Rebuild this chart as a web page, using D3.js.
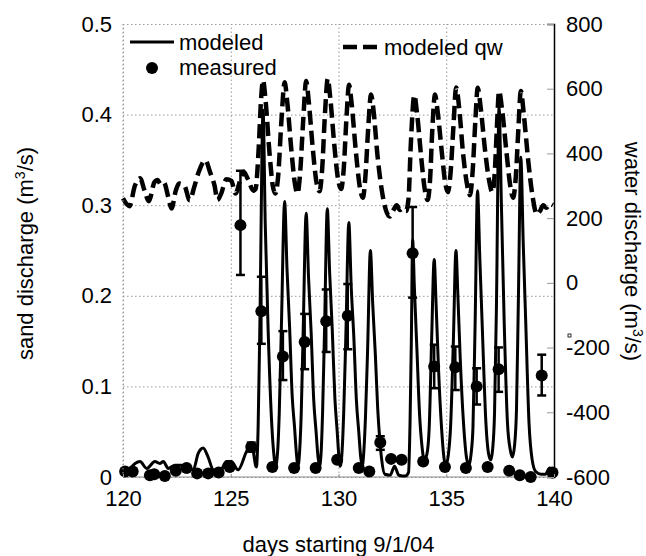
<!DOCTYPE html>
<html>
<head>
<meta charset="utf-8">
<script src="https://cdn.jsdelivr.net/npm/d3@7"></script>
<style>
    body { margin: 0; background: #fff; }
    svg { display: block; font-family: "Liberation Sans", Arial, Helvetica, sans-serif; }
    .grid line { stroke: #999; stroke-dasharray: 1.5, 2.5; }
    .grid path { display: none; }
</style>
</head>
<body>
<div id="chart"></div>
<script>
// modeled sand discharge (m3/s)
var sandDays = [120.0, 120.3, 120.56, 120.79, 121.1, 121.48, 121.71, 121.87, 122.1, 122.41, 122.72, 122.95,
    123.26, 123.49, 123.72, 123.95, 124.18, 124.49, 124.8, 125.03, 125.34, 125.73, 125.96, 126.19,
    126.27, 126.35, 126.5, 126.6, 126.73, 126.91, 127.0, 127.08,
    127.18, 127.25, 127.35, 127.5, 127.61, 127.73, 127.85, 127.96, 128.05, 128.12,
    128.2, 128.27, 128.36, 128.5, 128.61, 128.73, 128.85, 128.96, 129.05, 129.12,
    129.2, 129.26, 129.35, 129.48, 129.59, 129.71, 129.83, 129.94, 130.02, 130.08,
    130.17, 130.24, 130.34, 130.48, 130.59, 130.71, 130.83, 130.94, 131.03, 131.1,
    131.18, 131.25, 131.35, 131.48, 131.59, 131.71, 131.82, 131.92, 132.0, 132.15, 132.4, 132.6, 132.8, 133.1, 133.25,
    133.32, 133.38, 133.44, 133.52, 133.64, 133.76, 133.87, 133.98,
    134.1, 134.21, 134.32, 134.44, 134.53, 134.64, 134.78, 134.9, 134.98,
    135.1, 135.2, 135.33, 135.45, 135.54, 135.65, 135.8, 135.95, 136.06,
    136.15, 136.24, 136.34, 136.45, 136.56, 136.68, 136.84, 136.97, 137.07,
    137.15, 137.24, 137.33, 137.45, 137.56, 137.69, 137.84, 137.97, 138.07,
    138.17, 138.26, 138.35, 138.46, 138.57, 138.69, 138.84, 138.98, 139.15, 139.4, 139.6, 139.8, 140.0];
var sandModel = [0.006, 0.009, 0.015, 0.017, 0.0095, 0.017, 0.015, 0.017, 0.0095, 0.013, 0.013, 0.0095,
    0.008, 0.026, 0.032, 0.022, 0.008, 0.006, 0.017, 0.017, 0.008, 0.028, 0.037, 0.011,
    0.055, 0.166, 0.405, 0.28, 0.166, 0.055, 0.025, 0.012,
    0.03, 0.07, 0.166, 0.304, 0.23, 0.166, 0.09, 0.055, 0.025, 0.012,
    0.03, 0.07, 0.16, 0.291, 0.22, 0.16, 0.085, 0.05, 0.022, 0.012,
    0.03, 0.07, 0.16, 0.296, 0.225, 0.163, 0.088, 0.05, 0.022, 0.012,
    0.03, 0.07, 0.155, 0.281, 0.21, 0.155, 0.085, 0.05, 0.022, 0.012,
    0.03, 0.065, 0.14, 0.25, 0.19, 0.135, 0.075, 0.04, 0.02, 0.003, 0.002, 0.012, 0.002, 0.001, 0.005,
    0.06, 0.15, 0.262, 0.21, 0.14, 0.07, 0.035, 0.019,
    0.025, 0.055, 0.15, 0.24, 0.19, 0.12, 0.055, 0.02, 0.013,
    0.025, 0.055, 0.15, 0.25, 0.2, 0.13, 0.06, 0.02, 0.013,
    0.025, 0.055, 0.17, 0.316, 0.24, 0.16, 0.06, 0.025, 0.019,
    0.03, 0.07, 0.19, 0.408, 0.3, 0.17, 0.06, 0.03, 0.022,
    0.035, 0.075, 0.2, 0.353, 0.26, 0.17, 0.06, 0.02, 0.006, 0.003, 0.003, 0.01, 0.005];

// modeled water discharge qw (m3/s), right axis
var qwDays = [120.0, 120.3, 120.55, 120.79, 121.0, 121.2, 121.45, 121.6, 121.75, 121.9, 122.1, 122.25,
    122.45, 122.6, 122.85, 123.1, 123.3, 123.5, 123.82, 124.05, 124.25, 124.38, 124.55, 124.8,
    125.03, 125.22, 125.45, 125.6, 125.8, 126.05, 126.15, 126.3, 126.4, 126.5, 126.62, 126.8, 126.95,
    127.07, 127.2, 127.35, 127.5, 127.62, 127.8, 127.97, 128.1, 128.22, 128.36, 128.5, 128.62, 128.8, 128.98,
    129.12, 129.24, 129.37, 129.5, 129.62, 129.8, 129.98, 130.12, 130.24, 130.37, 130.49, 130.6, 130.8, 130.98,
    131.13, 131.25, 131.38, 131.51, 131.63, 131.8, 132.0, 132.2, 132.38, 132.55, 132.7, 132.85, 133.0, 133.13,
    133.25, 133.35, 133.52, 133.65, 133.85, 134.0, 134.13, 134.25, 134.35, 134.48, 134.6, 134.8, 134.95,
    135.08, 135.2, 135.33, 135.46, 135.6, 135.78, 135.95, 136.1, 136.22, 136.35, 136.46, 136.6, 136.8, 136.98,
    137.14, 137.25, 137.35, 137.45, 137.6, 137.8, 137.97, 138.1, 138.23, 138.35, 138.46, 138.6, 138.8, 139.0,
    139.2, 139.35, 139.5, 139.65, 139.8, 139.95];
var qwModel = [261, 237, 300, 323, 285, 252, 310, 318, 305, 310, 265, 230,
    285, 307, 300, 255, 295, 340, 379, 340, 300, 256, 275, 320,
    315, 276, 320, 343, 320, 285, 290, 420, 560, 626, 560, 400, 300,
    276, 330, 500, 620, 560, 420, 310, 276, 340, 500, 624, 560, 420, 310,
    283, 350, 520, 631, 570, 430, 320, 290, 350, 510, 612, 560, 410, 300,
    263, 330, 480, 582, 530, 400, 290, 225, 205, 225, 240, 225, 230, 222,
    260, 420, 580, 520, 380, 290, 256, 320, 470, 582, 530, 400, 310,
    280, 340, 480, 604, 540, 400, 310, 271, 340, 500, 603, 540, 410, 320,
    280, 340, 480, 593, 530, 400, 300, 263, 330, 480, 593, 520, 380, 270,
    212, 222, 240, 232, 244, 240];

// measured sand discharge
var measDays = [120.1, 120.45, 121.25, 121.45, 121.94, 122.45, 122.95, 123.44, 123.95, 124.44, 124.95,
    125.45, 125.95, 126.42, 126.93, 127.42, 127.94, 128.43, 128.94, 129.43, 129.94, 130.43, 130.94,
    131.43, 131.94, 132.44, 132.93, 133.44, 133.93, 134.44, 134.94, 135.42, 135.91, 136.41, 136.92,
    137.43, 137.92, 138.41, 138.92, 139.43, 139.93];
var measSand = [0.006, 0.006, 0.002, 0.003, 0.001, 0.007, 0.01, 0.004, 0.004, 0.005, 0.011,
    0.278, 0.033, 0.183, 0.011, 0.133, 0.01, 0.149, 0.01, 0.172, 0.019, 0.178, 0.01,
    0.006, 0.038, 0.02, 0.019, 0.247, 0.017, 0.122, 0.011, 0.121, 0.01, 0.1, 0.011,
    0.119, 0.007, 0.002, 0, 0.112, 0.005];

// error bars on measured values
var errDays = [125.45, 125.95, 126.42, 127.42, 128.43, 129.43, 130.43, 131.94, 133.44, 134.44, 135.42, 136.41, 137.43, 139.43];
var errLow = [0.223, 0.028, 0.147, 0.107, 0.119, 0.138, 0.141, 0.03, 0.198, 0.098, 0.096, 0.08, 0.094, 0.09];
var errHigh = [0.338, 0.038, 0.221, 0.161, 0.18, 0.207, 0.213, 0.045, 0.298, 0.146, 0.144, 0.12, 0.143, 0.135];

// ticks
var dayTicks = [120, 125, 130, 135, 140];
var sandTicks = [0, 0.1, 0.2, 0.3, 0.4, 0.5];
var sandTickLabels = ["0", "0.1", "0.2", "0.3", "0.4", "0.5"];
var qwTicks = [-600, -400, -200, 0, 200, 400, 600, 800];
var qwTickLabels = ["-600", "-400", "-200", "0", "200", "400", "600", "800"];

var margin = {top: 24, right: 92, bottom: 79, left: 123},
    width = 646 - margin.left - margin.right,
    height = 556 - margin.top - margin.bottom;

var svg = d3.select("#chart")
    .append("svg")
    .attr("width", 646)
    .attr("height", 556)
    .append("g")
    .attr("transform", "translate(" + margin.left + "," + margin.top + ")");

var x = d3.scaleLinear().domain([120, 140]).range([0, width]);
var y = d3.scaleLinear().domain([0, 0.5]).range([height, 0]);
var yq = d3.scaleLinear().domain([-600, 800]).range([height, 0]);

// dotted grid
svg.append("g")
    .attr("class", "grid")
    .call(d3.axisLeft(y).tickValues(sandTicks).tickSize(-width).tickFormat(""));
svg.append("g")
    .attr("class", "grid")
    .attr("transform", "translate(0," + height + ")")
    .call(d3.axisBottom(x).tickValues(dayTicks.slice(0, 4)).tickSize(-height).tickFormat(""));

// bottom axis line
svg.append("line")
    .attr("x1", 0).attr("x2", width)
    .attr("y1", height).attr("y2", height)
    .attr("stroke", "#888").attr("stroke-width", 1);

// modeled qw (dashed)
var qwLine = d3.line()
    .curve(d3.curveMonotoneX)
    .x(function (d, i) { return x(qwDays[i]); })
    .y(function (d) { return yq(d); });

svg.append("path")
    .datum(qwModel)
    .attr("fill", "none")
    .attr("stroke", "#000")
    .attr("stroke-width", 4.5)
    .attr("stroke-dasharray", "14,6")
    .attr("d", qwLine);

// modeled sand discharge (solid)
var sandLine = d3.line()
    .curve(d3.curveMonotoneX)
    .x(function (d, i) { return x(sandDays[i]); })
    .y(function (d) { return y(d); });

svg.append("path")
    .datum(sandModel)
    .attr("fill", "none")
    .attr("stroke", "#000")
    .attr("stroke-width", 3)
    .attr("stroke-linejoin", "round")
    .attr("d", sandLine);

// error bars
var bars = svg.selectAll(".err")
    .data(errDays)
    .enter().append("g")
    .attr("class", "err");
bars.append("line")
    .attr("x1", function (d) { return x(d); })
    .attr("x2", function (d) { return x(d); })
    .attr("y1", function (d, i) { return y(errLow[i]); })
    .attr("y2", function (d, i) { return y(errHigh[i]); })
    .attr("stroke", "#000").attr("stroke-width", 2.5);
bars.append("line")
    .attr("x1", function (d) { return x(d) - 4.5; })
    .attr("x2", function (d) { return x(d) + 4.5; })
    .attr("y1", function (d, i) { return y(errLow[i]); })
    .attr("y2", function (d, i) { return y(errLow[i]); })
    .attr("stroke", "#000").attr("stroke-width", 2.5);
bars.append("line")
    .attr("x1", function (d) { return x(d) - 4.5; })
    .attr("x2", function (d) { return x(d) + 4.5; })
    .attr("y1", function (d, i) { return y(errHigh[i]); })
    .attr("y2", function (d, i) { return y(errHigh[i]); })
    .attr("stroke", "#000").attr("stroke-width", 2.5);

// measured points
svg.selectAll(".dot")
    .data(measSand)
    .enter().append("circle")
    .attr("class", "dot")
    .attr("r", 6)
    .attr("cx", function (d, i) { return x(measDays[i]); })
    .attr("cy", function (d) { return y(d); })
    .attr("fill", "#000");

// left axis
var gl = svg.append("g")
    .call(d3.axisLeft(y).tickValues(sandTicks).tickSize(0).tickPadding(11)
        .tickFormat(function (d, i) { return sandTickLabels[i]; }));
gl.select(".domain").remove();

// right axis
var gr = svg.append("g")
    .attr("transform", "translate(" + width + ",0)")
    .call(d3.axisRight(yq).tickValues(qwTicks).tickSize(-7).tickPadding(12)
        .tickFormat(function (d, i) { return qwTickLabels[i]; }));
gr.select(".domain").attr("stroke", "#000").attr("stroke-width", 1.5);
gr.selectAll(".tick line").attr("stroke", "#999");

// bottom axis
var gb = svg.append("g")
    .attr("transform", "translate(0," + height + ")")
    .call(d3.axisBottom(x).tickValues(dayTicks).tickSize(-3).tickPadding(13));
gb.select(".domain").remove();
gb.selectAll(".tick line").attr("stroke", "#999");

svg.selectAll(".tick text")
    .attr("font-family", "'Liberation Sans', Arial, sans-serif")
    .attr("font-size", "22px")
    .attr("fill", "#000");

// axis titles
var lt = svg.append("text")
    .attr("text-anchor", "middle")
    .attr("transform", "translate(" + (33 - margin.left) + "," + (height / 2 + 3) + ")rotate(-90)")
    .attr("font-size", "22px");
lt.append("tspan").text("sand discharge (m");
lt.append("tspan").attr("baseline-shift", "super").attr("font-size", "14px").text("3");
lt.append("tspan").text("/s)");

var rt = svg.append("text")
    .attr("text-anchor", "middle")
    .attr("transform", "translate(" + (625 - margin.left) + "," + (height / 2 + 1) + ")rotate(90)")
    .attr("font-size", "22px");
rt.append("tspan").text("water discharge (m");
rt.append("tspan").attr("baseline-shift", "super").attr("font-size", "14px").text("3");
rt.append("tspan").text("/s)");

svg.append("text")
    .attr("text-anchor", "middle")
    .attr("x", width / 2)
    .attr("y", height + 75)
    .attr("font-size", "22px")
    .text("days starting 9/1/04");

// little mark beside -200
svg.append("rect")
    .attr("x", 568 - margin.left).attr("y", 334 - margin.top)
    .attr("width", 3).attr("height", 3)
    .attr("fill", "none").attr("stroke", "#000").attr("stroke-width", 0.8);

// legend
svg.append("line")
    .attr("x1", 130 - margin.left).attr("x2", 174 - margin.left)
    .attr("y1", 42 - margin.top).attr("y2", 42 - margin.top)
    .attr("stroke", "#000").attr("stroke-width", 3);
svg.append("text")
    .attr("x", 179 - margin.left).attr("y", 50 - margin.top)
    .attr("font-size", "22px").text("modeled");
svg.append("circle")
    .attr("cx", 152 - margin.left).attr("cy", 68 - margin.top)
    .attr("r", 6).attr("fill", "#000");
svg.append("text")
    .attr("x", 179 - margin.left).attr("y", 75 - margin.top)
    .attr("font-size", "22px").text("measured");
svg.append("line")
    .attr("x1", 343 - margin.left).attr("x2", 377 - margin.left)
    .attr("y1", 47 - margin.top).attr("y2", 47 - margin.top)
    .attr("stroke", "#000").attr("stroke-width", 4.5)
    .attr("stroke-dasharray", "14,6");
svg.append("text")
    .attr("x", 384 - margin.left).attr("y", 55 - margin.top)
    .attr("font-size", "22px").text("modeled qw");

// dotted left frame
svg.append("line")
    .attr("x1", 0).attr("x2", 0).attr("y1", 0).attr("y2", height)
    .attr("stroke", "#999").attr("stroke-dasharray", "1.5,2.5");
</script>
</body>
</html>
